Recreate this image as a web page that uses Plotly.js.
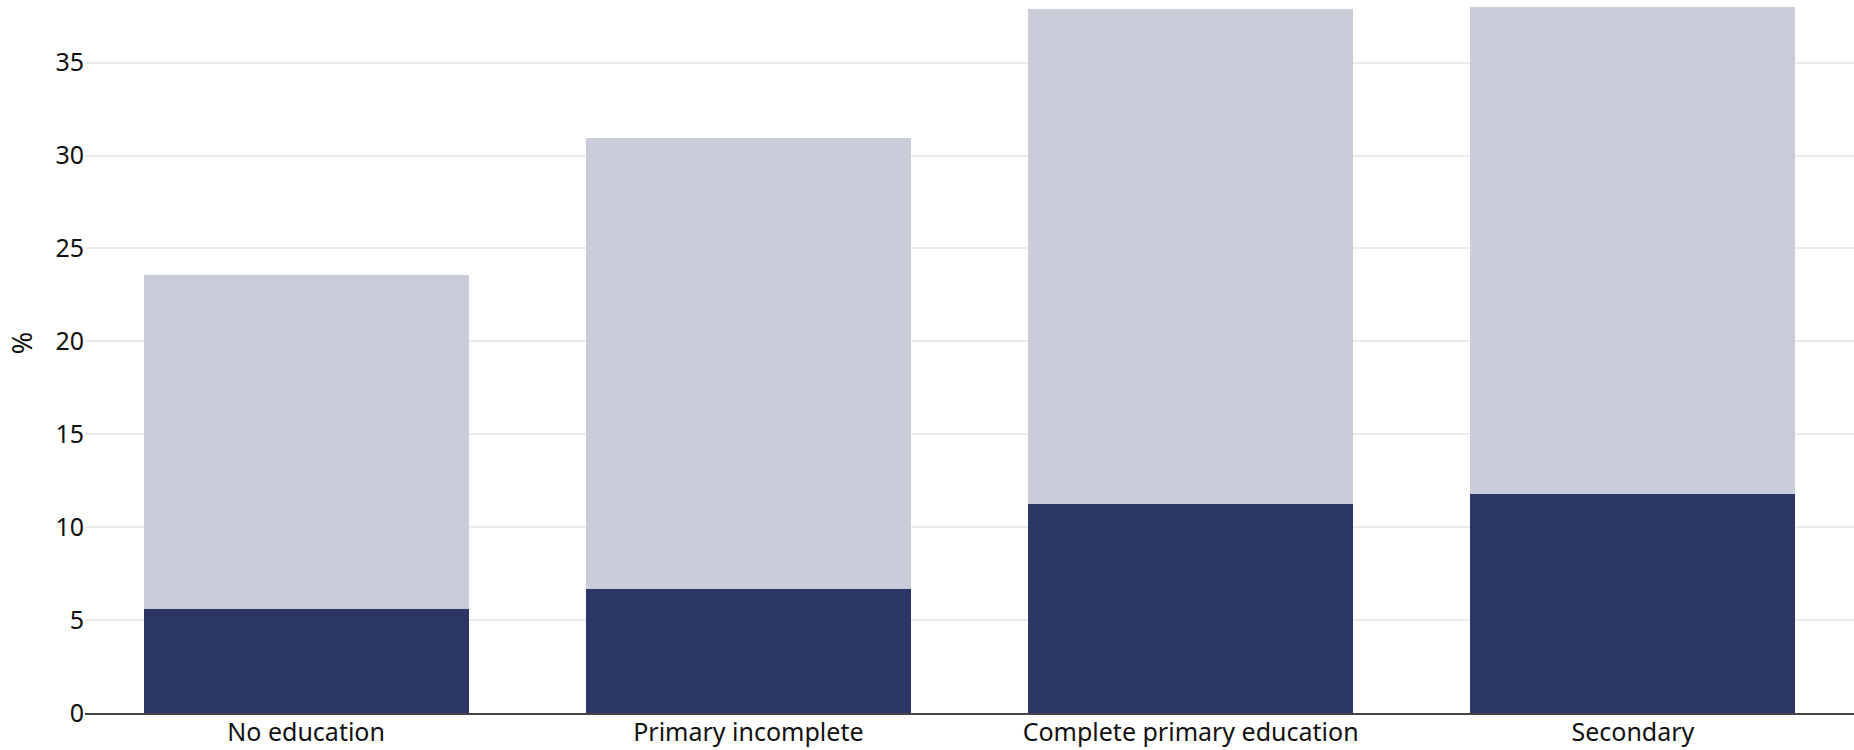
<!DOCTYPE html>
<html>
<head>
<meta charset="utf-8">
<script src="https://cdn.plot.ly/plotly-3.0.1.min.js"></script>
<style>html,body{margin:0;padding:0;background:#fff;}#chart{width:1854px;height:750px;}</style>
</head>
<body>
<div id="chart"></div>
<script>
const categories = ["No education", "Primary incomplete", "Complete primary education", "Secondary"];
const darkValues = [5.61, 6.70, 11.23, 11.80];
const totalValues = [23.56, 30.95, 37.87, 37.99];
const lightValues = totalValues.map((t, i) => +(t - darkValues[i]).toFixed(2));
const yTickValues = [0, 5, 10, 15, 20, 25, 30, 35];

const fontFamily = "'Noto Sans', 'Open Sans', sans-serif";

const traces = [
  {
    type: "bar", x: categories, y: darkValues, name: "dark",
    marker: {color: "#2b3664", line: {width: 0}},
    hoverinfo: "skip"
  },
  {
    type: "bar", x: categories, y: lightValues, name: "light",
    marker: {color: "#cacdd9", line: {width: 0}},
    hoverinfo: "skip"
  }
];

const layout = {
  width: 1854, height: 750,
  barmode: "stack",
  bargap: 0.265,
  showlegend: false,
  paper_bgcolor: "#fff", plot_bgcolor: "#fff",
  margin: {l: 85, r: 0, t: 0, b: 37},
  font: {family: fontFamily, size: 25, color: "#111"},
  xaxis: {
    type: "category",
    range: [-0.5, 3.5],
    showgrid: false,
    showline: true, linecolor: "#444", linewidth: 2,
    ticks: "", tickfont: {size: 25, color: "#111"},
    ticklabelstandoff: -4,
    fixedrange: true
  },
  yaxis: {
    range: [0, 38.37],
    tickvals: yTickValues,
    showgrid: true, gridcolor: "#ebebeb", gridwidth: 2,
    zeroline: false, showline: false,
    ticks: "", tickfont: {size: 25, color: "#111"},
    fixedrange: true
  },
  annotations: [{
    text: "%", xref: "paper", yref: "paper",
    x: -0.0362, y: 0.5186, xanchor: "center", yanchor: "middle",
    textangle: -90, showarrow: false,
    font: {size: 27, color: "#111", family: fontFamily}
  }]
};

Plotly.newPlot("chart", traces, layout, {displayModeBar: false, staticPlot: true});
</script>
</body>
</html>
